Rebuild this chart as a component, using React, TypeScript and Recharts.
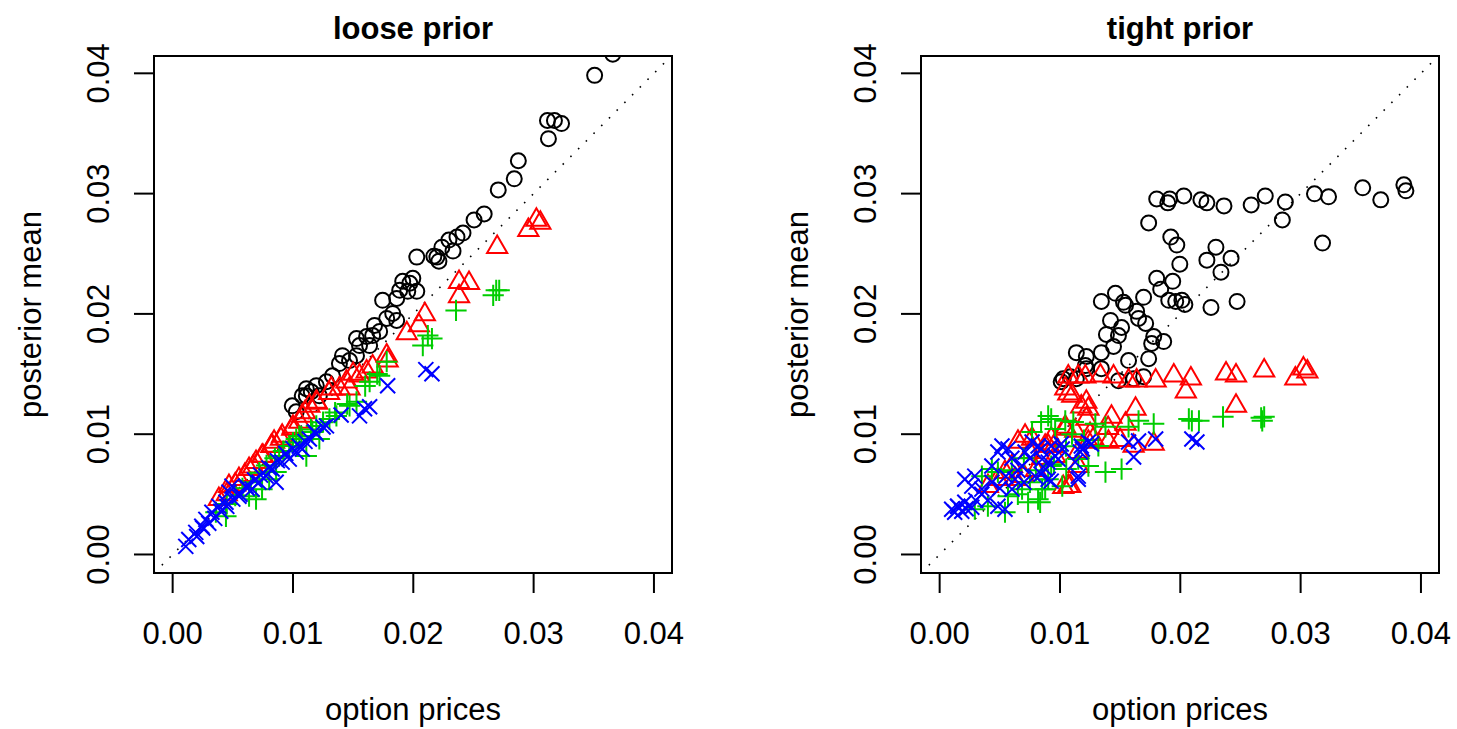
import React from 'react'
import { ScatterChart, Scatter, XAxis, YAxis, ReferenceLine, ReferenceArea } from 'recharts'

type Pt = [number, number]

// axis setup shared by both panels
const X_DOMAIN: [number, number] = [-0.00155, 0.0415]
const Y_DOMAIN: [number, number] = [-0.00154, 0.04144]
const TICKS = [0, 0.01, 0.02, 0.03, 0.04]
const TICK_LABELS = ['0.00', '0.01', '0.02', '0.03', '0.04']

// loose prior
const looseCircles: Pt[] = [
  [0.03875, 0.0422], [0.03658, 0.04159], [0.03507, 0.03983], [0.03115, 0.03608], [0.03173, 0.03608],
  [0.03232, 0.03582], [0.03123, 0.03457], [0.02873, 0.03273], [0.02839, 0.03123], [0.02706, 0.03031],
  [0.02589, 0.02831], [0.02505, 0.02781], [0.02413, 0.02672], [0.02363, 0.02639], [0.02296, 0.02614],
  [0.0233, 0.02522], [0.02238, 0.02555], [0.02171, 0.0248], [0.02213, 0.02438], [0.02029, 0.02472],
  [0.02196, 0.02472], [0.01996, 0.02296], [0.01912, 0.02271], [0.01971, 0.02255], [0.01887, 0.02196],
  [0.01954, 0.02188], [0.02029, 0.02188], [0.01862, 0.02129], [0.01745, 0.02113], [0.01829, 0.02004],
  [0.01862, 0.01946], [0.01779, 0.01962], [0.01678, 0.01904], [0.0172, 0.01854], [0.01662, 0.0182],
  [0.01612, 0.01812], [0.01528, 0.01795], [0.01553, 0.01737], [0.01637, 0.01737], [0.01411, 0.01653],
  [0.0147, 0.01612], [0.01386, 0.01587], [0.01528, 0.01653], [0.01328, 0.01486], [0.01278, 0.01436],
  [0.01194, 0.01403], [0.01152, 0.01353], [0.01219, 0.01319], [0.01111, 0.01319], [0.00994, 0.01236],
  [0.01027, 0.01186], [0.01077, 0.01319], [0.01111, 0.01378],
]
const looseTriangles: Pt[] = [
  [0.03023, 0.02781], [0.03056, 0.02756], [0.02956, 0.02697], [0.02697, 0.02555], [0.0238, 0.02263],
  [0.02463, 0.02255], [0.0238, 0.02146], [0.02096, 0.01996], [0.02046, 0.01904], [0.01946, 0.01837],
  [0.01779, 0.01653], [0.01787, 0.01612], [0.01662, 0.01562], [0.01612, 0.0152], [0.01553, 0.01486],
  [0.01445, 0.01436], [0.01386, 0.01378], [0.01319, 0.01378], [0.0147, 0.01378], [0.01194, 0.01269],
  [0.01136, 0.01236], [0.01077, 0.01152], [0.01052, 0.01102], [0.00994, 0.01044], [0.00843, 0.00935],
  [0.0091, 0.00985], [0.00827, 0.00902], [0.00743, 0.00818], [0.00693, 0.00768], [0.00635, 0.0071],
  [0.00551, 0.00626], [0.00468, 0.00568], [0.00384, 0.00459],
  [0.0045, 0.005], [0.0052, 0.0058], [0.006, 0.0066], [0.0067, 0.0073], [0.0075, 0.0082],
  [0.0082, 0.009], [0.009, 0.0096], [0.01, 0.0106], [0.011, 0.0118], [0.012, 0.0126],
  [0.013, 0.0134], [0.015, 0.015],
]
const loosePluses: Pt[] = [
  [0.02689, 0.02196], [0.02664, 0.02154], [0.02714, 0.02196], [0.02355, 0.02029], [0.02121, 0.0182],
  [0.02155, 0.01795], [0.02079, 0.01737], [0.01779, 0.01603], [0.0172, 0.01486], [0.01637, 0.01436],
  [0.01528, 0.01269], [0.0147, 0.01236], [0.01361, 0.01152], [0.01303, 0.01127], [0.01194, 0.01069],
  [0.01161, 0.01019], [0.01219, 0.0096], [0.01052, 0.00985], [0.01027, 0.0096], [0.00969, 0.00902],
  [0.00885, 0.00818], [0.0086, 0.00685], [0.00802, 0.00626], [0.00743, 0.00543], [0.00693, 0.00459],
  [0.00635, 0.00484], [0.00443, 0.00317], [0.00359, 0.00351], [0.01111, 0.00818],
  [0.0045, 0.0042], [0.0052, 0.0049], [0.0058, 0.0055], [0.0065, 0.006], [0.0072, 0.0068],
  [0.0078, 0.0074], [0.0085, 0.008], [0.0092, 0.0086], [0.01, 0.0093], [0.0107, 0.0098],
  [0.0115, 0.0104], [0.0125, 0.011], [0.0135, 0.0118], [0.0145, 0.0125], [0.016, 0.014],
  [0.017, 0.015],
]
const looseCrosses: Pt[] = [
  [0.02104, 0.01537], [0.02155, 0.01503], [0.01787, 0.01403], [0.01637, 0.01228], [0.01595, 0.01211],
  [0.01553, 0.01152], [0.01278, 0.01069], [0.01194, 0.01002], [0.01136, 0.0096], [0.01052, 0.00902],
  [0.01077, 0.00877], [0.01027, 0.00852], [0.00969, 0.00793], [0.0091, 0.00768], [0.0086, 0.00601],
  [0.00827, 0.0071], [0.00777, 0.00651], [0.00718, 0.00601], [0.0066, 0.00543], [0.0061, 0.00568],
  [0.00551, 0.00484], [0.00493, 0.00568], [0.00468, 0.00518], [0.00443, 0.00434], [0.00384, 0.00401],
  [0.00326, 0.00351], [0.00276, 0.00292], [0.00242, 0.00234], [0.00192, 0.00184], [0.00134, 0.00125],
  [0.00109, 0.00067],
  [0.002, 0.0015], [0.0025, 0.0022], [0.003, 0.0026], [0.0035, 0.003], [0.004, 0.0036],
  [0.0045, 0.004], [0.005, 0.0046], [0.0056, 0.005], [0.0062, 0.0055], [0.0068, 0.0062],
  [0.0073, 0.0066], [0.008, 0.0072], [0.0087, 0.0078], [0.0094, 0.0084], [0.01, 0.0088],
  [0.011, 0.0094], [0.0118, 0.0102], [0.0125, 0.0106], [0.014, 0.0116],
]

// tight prior
const tightCircles: Pt[] = [
  [0.01804, 0.02956], [0.01912, 0.02956], [0.01896, 0.02923], [0.02029, 0.02981], [0.02171, 0.02948],
  [0.02221, 0.02923], [0.02363, 0.02898], [0.02589, 0.02906], [0.02706, 0.02981], [0.02873, 0.02931],
  [0.02848, 0.02781], [0.03115, 0.02998], [0.03232, 0.02973], [0.03516, 0.03048], [0.03666, 0.02948],
  [0.03858, 0.03073], [0.03875, 0.03023], [0.01737, 0.02756], [0.01921, 0.02639], [0.01971, 0.02572],
  [0.02296, 0.02555], [0.02221, 0.02447], [0.02422, 0.02463], [0.02338, 0.02347], [0.01996, 0.02413],
  [0.01804, 0.02296], [0.01937, 0.02271], [0.01837, 0.02205], [0.01904, 0.02113], [0.01962, 0.02104],
  [0.02013, 0.02113], [0.02038, 0.02079], [0.02255, 0.02054], [0.02472, 0.02104], [0.03182, 0.02589],
  [0.01461, 0.02171], [0.01344, 0.02104], [0.01528, 0.02096], [0.01545, 0.02071], [0.01695, 0.02138],
  [0.01637, 0.02021], [0.0142, 0.01946], [0.01653, 0.01962], [0.01712, 0.01921], [0.01512, 0.01887],
  [0.01386, 0.01829], [0.01486, 0.0182], [0.01779, 0.01812], [0.01762, 0.01754], [0.01862, 0.0177],
  [0.01445, 0.01729], [0.01344, 0.01678], [0.01136, 0.01678], [0.01219, 0.01645], [0.0157, 0.01612],
  [0.01737, 0.01628], [0.01211, 0.0157], [0.01219, 0.01545], [0.01344, 0.01545], [0.01695, 0.01478],
  [0.01612, 0.01461], [0.01486, 0.01445], [0.01027, 0.01461], [0.01086, 0.01478], [0.01136, 0.01461],
  [0.0101, 0.01436],
]
const tightTriangles: Pt[] = [
  [0.01069, 0.01478], [0.01152, 0.01478], [0.01211, 0.01478], [0.01336, 0.01486], [0.01445, 0.01478],
  [0.0157, 0.01445], [0.01637, 0.01445], [0.01795, 0.01445], [0.01946, 0.01486], [0.02088, 0.01461],
  [0.0238, 0.01503], [0.02463, 0.01486], [0.02697, 0.01528], [0.03023, 0.01545], [0.03056, 0.0152],
  [0.02956, 0.01461], [0.02463, 0.01236], [0.01069, 0.01336], [0.02046, 0.01353], [0.01219, 0.01269],
  [0.01177, 0.01228], [0.01628, 0.01211], [0.01428, 0.01144], [0.01545, 0.01086], [0.01219, 0.01127],
  [0.01044, 0.01061], [0.01127, 0.01027], [0.01278, 0.0096], [0.01403, 0.00935], [0.01612, 0.00902],
  [0.01779, 0.00919], [0.01236, 0.00935], [0.00927, 0.0096], [0.01152, 0.00735], [0.01027, 0.0056],
  [0.01086, 0.00568], [0.00877, 0.00902], [0.01044, 0.01378], [0.01102, 0.01319], [0.01236, 0.01211],
  [0.0071, 0.00985], [0.00768, 0.0096], [0.00651, 0.00935], [0.01044, 0.01044], [0.00601, 0.00735],
  [0.00543, 0.00685], [0.00626, 0.00626], [0.00902, 0.00902], [0.0096, 0.00818], [0.01069, 0.00568],
  [0.00484, 0.00626], [0.00401, 0.00568],
  [0.0075, 0.0085], [0.0085, 0.008], [0.0095, 0.009], [0.007, 0.0065], [0.008, 0.007],
  [0.0115, 0.0085], [0.0125, 0.01], [0.014, 0.0105], [0.015, 0.0095],
]
const tightPluses: Pt[] = [
  [0.02155, 0.01111], [0.02355, 0.01144], [0.02672, 0.01136], [0.02697, 0.01144], [0.02681, 0.01111],
  [0.02071, 0.01127], [0.02096, 0.01111], [0.01779, 0.01086], [0.01653, 0.01111], [0.0157, 0.01061],
  [0.01378, 0.01061], [0.01294, 0.01086], [0.01111, 0.01102], [0.01044, 0.01111], [0.00927, 0.01127],
  [0.00843, 0.01102], [0.01512, 0.0071], [0.01378, 0.00685], [0.01052, 0.0071], [0.00927, 0.00735],
  [0.00877, 0.00543], [0.00835, 0.00434], [0.01319, 0.00902], [0.00902, 0.01152], [0.00768, 0.01019],
  [0.0096, 0.01044], [0.00434, 0.0071], [0.00351, 0.00651], [0.00401, 0.00401], [0.00292, 0.00376],
  [0.00484, 0.00685], [0.00568, 0.00484], [0.00685, 0.00543], [0.00735, 0.00434], [0.00818, 0.00459],
  [0.00852, 0.00543], [0.00902, 0.00626], [0.01019, 0.00568], [0.01152, 0.00793], [0.01236, 0.00735],
  [0.00543, 0.00351],
  [0.006, 0.007], [0.007, 0.008], [0.008, 0.007], [0.0095, 0.0075], [0.0105, 0.009],
  [0.0065, 0.005], [0.0075, 0.006], [0.011, 0.01], [0.012, 0.0095],
]
const tightCrosses: Pt[] = [
  [0.02096, 0.0096], [0.02138, 0.00935], [0.01795, 0.0096], [0.01653, 0.00944], [0.0157, 0.00935],
  [0.01612, 0.0081], [0.01261, 0.00919], [0.01177, 0.00902], [0.01169, 0.00852], [0.0101, 0.00919],
  [0.00927, 0.00902], [0.00843, 0.00877], [0.00985, 0.00793], [0.00902, 0.00768], [0.01152, 0.00626],
  [0.00927, 0.0061], [0.00843, 0.00668], [0.001, 0.00376], [0.0015, 0.00401], [0.00209, 0.00434],
  [0.00125, 0.00351], [0.00184, 0.00359], [0.00267, 0.00392], [0.00209, 0.00626], [0.00292, 0.00651],
  [0.00267, 0.00568], [0.00351, 0.00543], [0.00434, 0.00601], [0.00518, 0.00902], [0.00484, 0.00852],
  [0.00568, 0.00877], [0.00543, 0.00376], [0.00484, 0.00401], [0.00626, 0.00626], [0.00601, 0.00543],
  [0.00685, 0.00735], [0.0071, 0.00852], [0.00768, 0.00935], [0.00818, 0.00902], [0.00793, 0.00651],
  [0.00877, 0.0071], [0.0096, 0.00818], [0.01019, 0.00877], [0.00902, 0.00626], [0.00852, 0.00793],
  [0.01127, 0.00768], [0.01186, 0.00877], [0.01236, 0.00935], [0.01152, 0.00651], [0.00434, 0.00735],
  [0.0035, 0.005], [0.004, 0.0045], [0.005, 0.0055], [0.0055, 0.0065], [0.0065, 0.007],
  [0.007, 0.006], [0.0075, 0.008], [0.006, 0.008], [0.003, 0.0045], [0.0015, 0.004],
  [0.0022, 0.0038],
]

const FONT = '"Liberation Sans", Arial, Helvetica, sans-serif'
const CHART_W = 690
const CHART_H = 729
const PLOT_LEFT = 154
const PLOT_TOP = 56
const PLOT_W = 518
const PLOT_H = 517
const X_AXIS_H = CHART_H - PLOT_TOP - PLOT_H

// base symbol radius, R's pch sizes derive from it
const RAD = 7.5
const LWD = 2

const rows = (pts: Pt[]) => pts.map(([x, y]) => ({ x, y }))

const circleMark = (p: any) => (
  <circle cx={p.cx} cy={p.cy} r={RAD} fill="none" stroke="#000000" strokeWidth={LWD} />
)

const triangleMark = (p: any) => {
  const r = 1.5551 * RAD
  const hw = 1.3468 * RAD
  const b = 0.7776 * RAD
  return (
    <polygon
      points={`${p.cx},${p.cy - r} ${p.cx + hw},${p.cy + b} ${p.cx - hw},${p.cy + b}`}
      fill="none"
      stroke="#FF0000"
      strokeWidth={LWD}
    />
  )
}

const plusMark = (p: any) => {
  const a = Math.SQRT2 * RAD
  return (
    <path
      d={`M${p.cx - a},${p.cy}H${p.cx + a}M${p.cx},${p.cy - a}V${p.cy + a}`}
      stroke="#00CD00"
      strokeWidth={LWD}
      fill="none"
    />
  )
}

const crossMark = (p: any) => {
  const a = RAD
  return (
    <path
      d={`M${p.cx - a},${p.cy - a}L${p.cx + a},${p.cy + a}M${p.cx - a},${p.cy + a}L${p.cx + a},${p.cy - a}`}
      stroke="#0000FF"
      strokeWidth={LWD}
      fill="none"
    />
  )
}

const label = (v: number) => TICK_LABELS[TICKS.indexOf(v)] ?? String(v)

const XTick = ({ x, y, payload }: any) => (
  <text x={x} y={y + 51} textAnchor="middle" fontSize={31} fontFamily={FONT} fill="#000">
    {label(payload.value)}
  </text>
)

const YTick = ({ x, y, payload }: any) => (
  <text
    x={x - 25}
    y={y}
    transform={`rotate(-90 ${x - 25} ${y})`}
    textAnchor="middle"
    fontSize={31}
    fontFamily={FONT}
    fill="#000"
  >
    {label(payload.value)}
  </text>
)

interface PanelProps {
  left: number
  title: string
  circles: Pt[]
  triangles: Pt[]
  pluses: Pt[]
  crosses: Pt[]
}

function Panel({ left, title, circles, triangles, pluses, crosses }: PanelProps) {
  const cx = PLOT_LEFT + PLOT_W / 2
  const cy = PLOT_TOP + PLOT_H / 2
  return (
    <div style={{ position: 'absolute', left, top: 0, width: CHART_W, height: CHART_H }}>
      <ScatterChart
        width={CHART_W}
        height={CHART_H}
        margin={{ top: PLOT_TOP, right: CHART_W - PLOT_LEFT - PLOT_W, bottom: 0, left: 0 }}
      >
        <XAxis
          type="number"
          dataKey="x"
          domain={X_DOMAIN}
          allowDataOverflow
          ticks={TICKS}
          interval={0}
          height={X_AXIS_H}
          tickSize={20}
          tickMargin={0}
          axisLine={false}
          tickLine={{ stroke: '#000', strokeWidth: 2 }}
          tick={(p: any) => <XTick {...p} />}
        />
        <YAxis
          type="number"
          dataKey="y"
          domain={Y_DOMAIN}
          allowDataOverflow
          ticks={TICKS}
          interval={0}
          width={PLOT_LEFT}
          tickSize={20}
          tickMargin={0}
          axisLine={false}
          tickLine={{ stroke: '#000', strokeWidth: 2 }}
          tick={(p: any) => <YTick {...p} />}
        />
        <ReferenceLine
          segment={[
            { x: Y_DOMAIN[0], y: Y_DOMAIN[0] },
            { x: Y_DOMAIN[1], y: Y_DOMAIN[1] },
          ]}
          stroke="#000"
          strokeWidth={1.6}
          strokeDasharray="1.6 9.3"
        />
        <Scatter data={rows(circles)} shape={circleMark} isAnimationActive={false} />
        <Scatter data={rows(triangles)} shape={triangleMark} isAnimationActive={false} />
        <Scatter data={rows(pluses)} shape={plusMark} isAnimationActive={false} />
        <Scatter data={rows(crosses)} shape={crossMark} isAnimationActive={false} />
        <ReferenceArea
          x1={X_DOMAIN[0]}
          x2={X_DOMAIN[1]}
          y1={Y_DOMAIN[0]}
          y2={Y_DOMAIN[1]}
          fill="none"
          fillOpacity={0}
          stroke="#000"
          strokeWidth={2}
          strokeOpacity={1}
        />
      </ScatterChart>
      <svg
        width={CHART_W}
        height={CHART_H}
        style={{ position: 'absolute', left: 0, top: 0, pointerEvents: 'none' }}
        fontFamily={FONT}
        fontSize={31}
      >
        <text x={cx} y={39} textAnchor="middle" fontWeight="bold">
          {title}
        </text>
        <text x={cx} y={720} textAnchor="middle">
          option prices
        </text>
        <text x={41} y={cy} textAnchor="middle" transform={`rotate(-90 41 ${cy})`}>
          posterior mean
        </text>
      </svg>
    </div>
  )
}

export default function App() {
  return (
    <div style={{ position: 'absolute', left: 0, top: 0, width: 1457, height: 729, background: '#fff' }}>
      <Panel
        left={0}
        title="loose prior"
        circles={looseCircles}
        triangles={looseTriangles}
        pluses={loosePluses}
        crosses={looseCrosses}
      />
      <Panel
        left={767}
        title="tight prior"
        circles={tightCircles}
        triangles={tightTriangles}
        pluses={tightPluses}
        crosses={tightCrosses}
      />
    </div>
  )
}
